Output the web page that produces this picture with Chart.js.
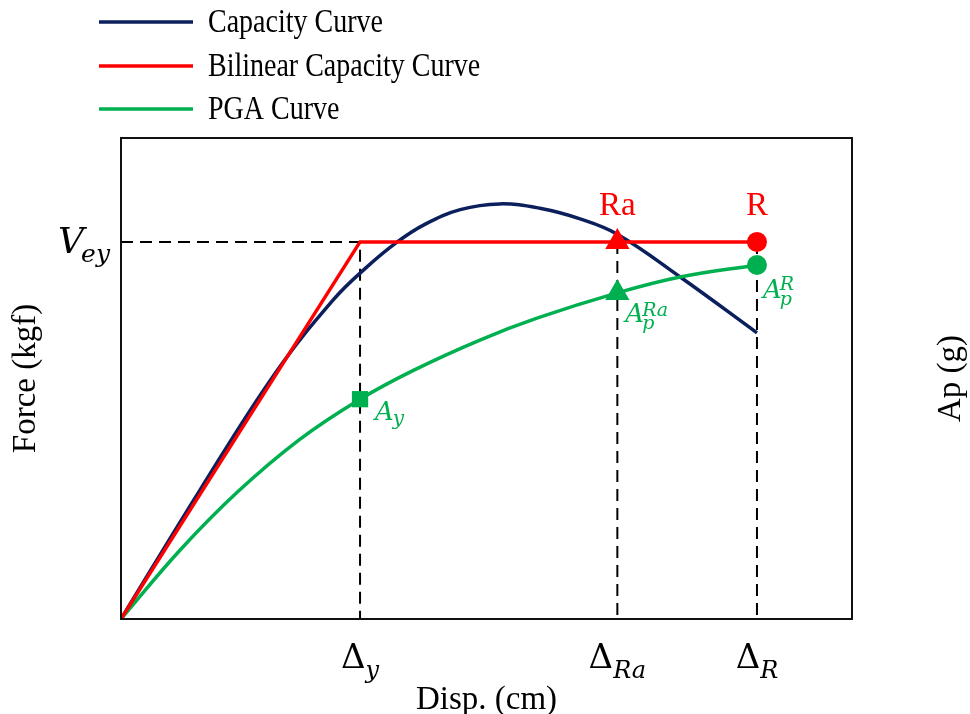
<!DOCTYPE html>
<html>
<head>
<meta charset="utf-8">
<script src="https://cdn.jsdelivr.net/npm/chart.js@4.4.0/dist/chart.umd.min.js"></script>
<style>
  html, body { margin: 0; padding: 0; background: #fff; }
  #wrap { width: 970px; height: 714px; }
</style>
</head>
<body>
<div id="wrap"><canvas id="chart"></canvas></div>
<script>
// ================= Dữ liệu =================
const dispTicks = [32.7, 67.9, 87.0];          // Δy, ΔRa, ΔR
const dispSubs = ['y', 'Ra', 'R'];
const forceTick = 78.4;                        // Vey

const capX = [0, 10.8, 21.1, 29.0, 33.5, 37.8, 41.5, 46.4, 51.8, 57.3, 62.8, 67.9, 76.5, 87.0];
const capY = [0, 26.8, 51.1, 66.3, 73.0, 78.4, 82.0, 85.1, 86.3, 85.4, 83.2, 80.0, 71.1, 59.5];

const bilinX = [0, 32.7, 87.0];
const bilinY = [0, 78.4, 78.4];

const pgaX = [0, 8.0, 16.0, 24.5, 32.7, 40.0, 49.1, 57.0, 67.9, 76.5, 87.0];
const pgaY = [0, 14.2, 26.5, 37.4, 45.7, 51.7, 58.0, 62.6, 67.8, 71.1, 73.6];

const pgaMarks = [45.7, 67.8, 73.6];           // Ay, Ap^Ra, Ap^R

const NAVY = '#0b1f5c';
const RED = '#ff0000';
const GREEN = '#00b050';

const pts = (xs, ys) => xs.map((x, i) => ({ x, y: ys[i] }));

// ================= Nhãn có chỉ số trên / dưới =================
function mathText(ctx, x, y, m) {
  const baseFont = `${m.italic ? 'italic ' : ''}${m.size}px "DejaVu Serif"`;
  const smallFont = `italic ${m.small}px "DejaVu Serif"`;
  ctx.font = baseFont;
  const bw = ctx.measureText(m.base).width;
  ctx.font = smallFont;
  const sw = Math.max(m.sub ? ctx.measureText(m.sub).width : 0,
                      m.sup ? ctx.measureText(m.sup).width : 0);
  const gap = m.gap || 0;
  const total = bw + gap + sw;
  let x0 = x;
  if (m.align === 'center') x0 = x - total / 2;
  if (m.align === 'right') x0 = x - total;
  ctx.fillStyle = m.color;
  ctx.textAlign = 'left';
  ctx.textBaseline = 'alphabetic';
  ctx.font = baseFont;
  ctx.fillText(m.base, x0, y);
  ctx.font = smallFont;
  if (m.sub) ctx.fillText(m.sub, x0 + bw + gap, y + m.subDy);
  if (m.sup) ctx.fillText(m.sup, x0 + bw + gap, y - m.supDy);
}

// ================= Plugin vẽ khung, nhãn, chú thích =================
const decor = {
  id: 'decor',
  afterDatasetsDraw(chart) {
    const { ctx, chartArea: a, scales: { x, y } } = chart;
    ctx.save();

    // khung
    ctx.strokeStyle = '#111';
    ctx.lineWidth = 2;
    ctx.strokeRect(a.left, a.top, a.right - a.left, a.bottom - a.top);

    // nhãn trục x: Δy, ΔRa, ΔR
    dispTicks.forEach((v, i) => {
      mathText(ctx, x.getPixelForValue(v), 668, {
        base: 'Δ', sub: dispSubs[i], size: 34, small: 24, subDy: 10,
        align: 'center', color: '#000'
      });
    });

    // nhãn trục y: Vey
    mathText(ctx, a.left - 11, y.getPixelForValue(forceTick) + 11, {
      base: 'V', sub: 'ey', italic: true, size: 36, small: 25, subDy: 9,
      gap: -3, align: 'right', color: '#000'
    });

    // Ra, R
    ctx.font = '33px "Liberation Serif"';
    ctx.fillStyle = RED;
    ctx.textAlign = 'center';
    ctx.textBaseline = 'alphabetic';
    const vy = y.getPixelForValue(forceTick);
    ctx.fillText('Ra', x.getPixelForValue(dispTicks[1]), vy - 27);
    ctx.fillText('R', x.getPixelForValue(dispTicks[2]), vy - 27);

    // Ay, Ap^Ra, Ap^R
    mathText(ctx, x.getPixelForValue(dispTicks[0]) + 15, y.getPixelForValue(pgaMarks[0]) + 21, {
      base: 'A', sub: 'y', italic: true, size: 26, small: 20, subDy: 5, gap: -1, color: GREEN
    });
    mathText(ctx, x.getPixelForValue(dispTicks[1]) + 8, y.getPixelForValue(pgaMarks[1]) + 29, {
      base: 'A', sub: 'p', sup: 'Ra', italic: true, size: 26, small: 19, subDy: 7, supDy: 6, gap: -2, color: GREEN
    });
    mathText(ctx, x.getPixelForValue(dispTicks[2]) + 6, y.getPixelForValue(pgaMarks[2]) + 33, {
      base: 'A', sub: 'p', sup: 'R', italic: true, size: 26, small: 19, subDy: 7, supDy: 8, gap: -2, color: GREEN
    });
    ctx.restore();
  },
  afterDraw(chart) {
    const { ctx, chartArea: a } = chart;
    ctx.save();

    // chú thích (3 đường cong đầu)
    const rows = [22, 66, 109];
    chart.data.datasets.slice(0, 3).forEach((ds, i) => {
      ctx.strokeStyle = ds.borderColor;
      ctx.lineWidth = 3.5;
      ctx.beginPath();
      ctx.moveTo(99, rows[i]);
      ctx.lineTo(193, rows[i]);
      ctx.stroke();
      ctx.save();
      ctx.translate(208, rows[i] + 1);
      ctx.scale(1, 1.18);
      ctx.fillStyle = '#000';
      ctx.font = '28px "Liberation Serif"';
      ctx.textAlign = 'left';
      ctx.textBaseline = 'middle';
      ctx.fillText(ds.label, 0, 0);
      ctx.restore();
    });

    // tiêu đề trục phải
    ctx.translate(951, (a.top + a.bottom) / 2);
    ctx.rotate(-Math.PI / 2);
    ctx.font = '33px "Liberation Serif"';
    ctx.textAlign = 'center';
    ctx.textBaseline = 'middle';
    ctx.fillStyle = '#000';
    ctx.fillText('Ap (g)', 0, 0);
    ctx.restore();
  }
};

// ================= Datasets =================
const guide = (data) => ({
  label: '', data, showLine: true, borderColor: '#000', borderWidth: 2,
  borderDash: [12, 7], pointRadius: 0, order: 3
});
const mark = (px, py, style, r, color) => ({
  label: '', data: [{ x: px, y: py }], showLine: false, pointStyle: style,
  pointRadius: r, pointHoverRadius: r, backgroundColor: color, borderColor: color,
  borderWidth: 0, order: 0
});

const datasets = [
  { label: 'Capacity Curve', data: pts(capX, capY), borderColor: NAVY, order: 2, tension: 0.4 },
  { label: 'Bilinear Capacity Curve', data: pts(bilinX, bilinY), borderColor: RED, order: 1, tension: 0 },
  { label: 'PGA Curve', data: pts(pgaX, pgaY), borderColor: GREEN, order: 1, tension: 0.4 },
].map(d => Object.assign(d, { showLine: true, borderWidth: 3.5, pointRadius: 0 }));

datasets.push(
  guide([{ x: 0, y: forceTick }, { x: dispTicks[0], y: forceTick }, { x: dispTicks[0], y: 0 }]),
  guide([{ x: dispTicks[1], y: forceTick }, { x: dispTicks[1], y: 0 }]),
  guide([{ x: dispTicks[2], y: forceTick }, { x: dispTicks[2], y: 0 }]),
  mark(dispTicks[1], forceTick, 'triangle', 14, RED),
  mark(dispTicks[2], forceTick, 'circle', 10, RED),
  mark(dispTicks[0], pgaMarks[0], 'rect', 11.5, GREEN),
  mark(dispTicks[1], pgaMarks[1], 'triangle', 14, GREEN),
  mark(dispTicks[2], pgaMarks[2], 'circle', 10, GREEN)
);

const titleFont = { family: '"Liberation Serif"', size: 33, lineHeight: 0.85 };

new Chart(document.getElementById('chart'), {
  type: 'scatter',
  data: { datasets },
  options: {
    responsive: true,
    maintainAspectRatio: false,
    animation: false,
    layout: { padding: { top: 138, right: 118, left: 0, bottom: 0 } },
    plugins: { legend: { display: false }, tooltip: { enabled: false } },
    scales: {
      x: {
        type: 'linear', min: 0, max: 100,
        grid: { display: false }, border: { display: false },
        ticks: { display: false },
        title: { display: true, text: 'Disp. (cm)', color: '#000', font: titleFont, padding: { top: 0, bottom: 0 } },
        afterFit: s => { s.height = 95; }
      },
      y: {
        type: 'linear', min: 0, max: 100,
        grid: { display: false }, border: { display: false },
        ticks: { display: false },
        title: { display: true, text: 'Force (kgf)', color: '#000', font: titleFont, padding: { top: 12, bottom: 0 } },
        afterFit: s => { s.width = 121; }
      }
    }
  },
  plugins: [decor]
});
</script>
</body>
</html>
